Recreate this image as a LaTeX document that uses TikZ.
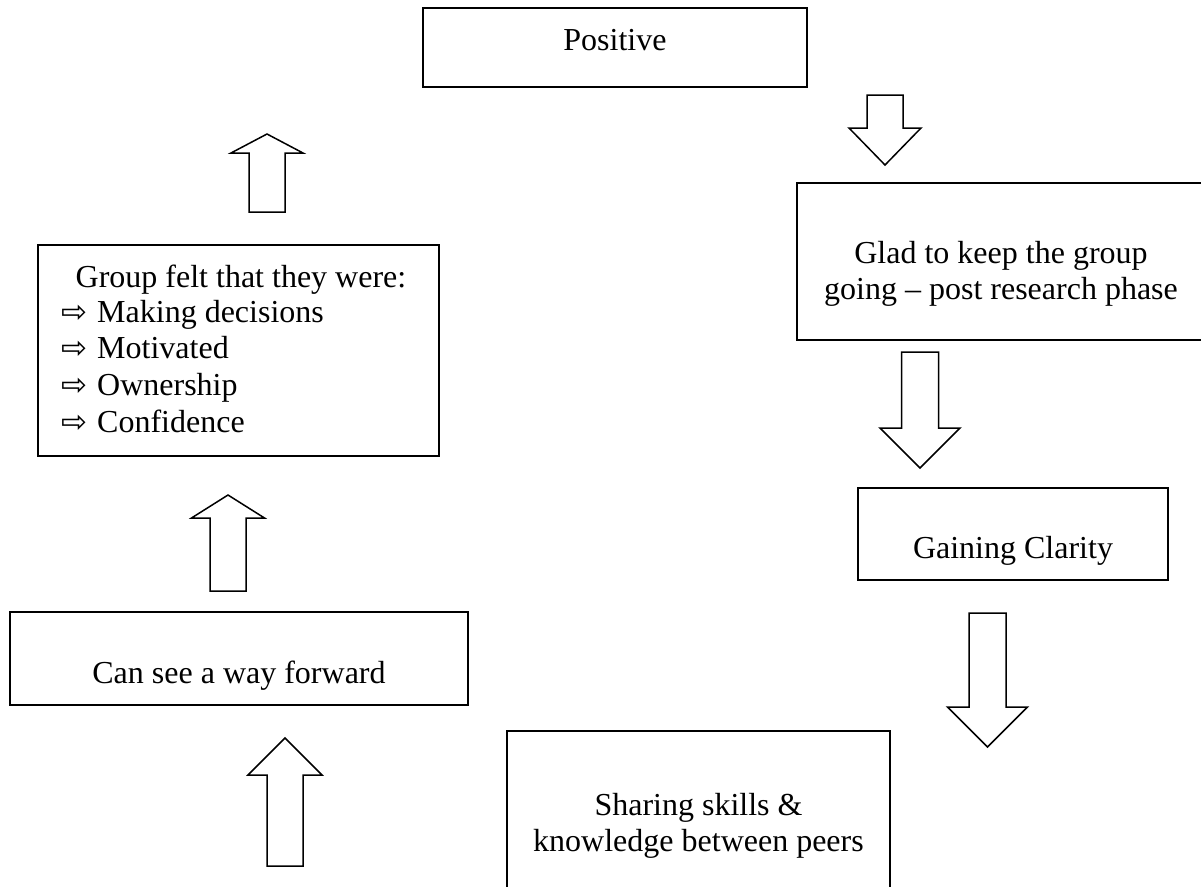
\documentclass[tikz,border=0pt]{standalone}
\usepackage{fontspec}
\setmainfont{Liberation Serif}
\newfontfamily\symfont{DejaVu Sans}
% block arrow: centre x, tail y, head-base y, tip y, half shaft, half head
\newcommand{\blockarrow}[6]{%
  \draw[blockarrow] (#1-#5,#2) -- (#1-#5,#3) -- (#1-#6,#3) -- (#1,#4)
    -- (#1+#6,#3) -- (#1+#5,#3) -- (#1+#5,#2) -- cycle;}
\begin{document}
\begin{tikzpicture}[x=1pt,y=-1pt,
  box/.style={draw, line width=1.8pt, inner sep=0pt},
  txt/.style={font=\fontsize{32}{36.5}\selectfont, inner sep=0pt, anchor=base},
  bullet/.style={font=\symfont\fontsize{31}{36.5}\selectfont, inner sep=0pt, anchor=base west},
  blockarrow/.style={draw, line width=1.5pt, line join=miter}]
\useasboundingbox (0,0) rectangle (1201,886);

% boxes
\node[box, minimum width=384pt, minimum height=79pt]  (positive) at (615,47.5) {};
\node[box, minimum width=401pt, minimum height=211pt] (group)    at (238.5,350.5) {};
\node[box, minimum width=458pt, minimum height=93pt]  (forward)  at (239,658.5) {};
\node[box, minimum width=408pt, minimum height=157pt] (glad)     at (1001,261.5) {};
\node[box, minimum width=310pt, minimum height=92pt]  (clarity)  at (1013,534) {};
\node[box, minimum width=383pt, minimum height=169pt] (sharing)  at (698.5,815.5) {};

% texts
\node[txt] (tpos) at (615,50) {Positive};
\node[txt] (tg0) at (241,287) {Group felt that they were:};
\node[bullet] (b1) at (61,322) {⇨};
\node[bullet] (b2) at (61,358) {⇨};
\node[bullet] (b3) at (61,395) {⇨};
\node[bullet] (b4) at (61,432) {⇨};
\node[txt, anchor=base west] (tg1) at (97,322) {Making decisions};
\node[txt, anchor=base west] (tg2) at (97,358) {Motivated};
\node[txt, anchor=base west] (tg3) at (97,395) {Ownership};
\node[txt, anchor=base west] (tg4) at (97,432) {Confidence};
\node[txt] (tfw) at (239,683) {Can see a way forward};
\node[txt] (tgl1) at (1001,263) {Glad to keep the group};
\node[txt] (tgl2) at (1001,299) {going – post research phase};
\node[txt] (tcl) at (1013,558) {Gaining Clarity};
\node[txt] (tsh1) at (698.5,815) {Sharing skills \&};
\node[txt] (tsh2) at (698.5,851) {knowledge between peers};

% block arrows
\blockarrow{267}{212}{153}{134}{18}{36}
\blockarrow{228}{591}{518}{495}{18}{36.5}
\blockarrow{285}{866}{775}{738}{18}{37}
\blockarrow{885}{95}{128}{165}{18}{36}
\blockarrow{920}{352}{428}{468}{18.5}{40}
\blockarrow{987.5}{613}{707}{747}{18.5}{40}
\end{tikzpicture}
\end{document}
